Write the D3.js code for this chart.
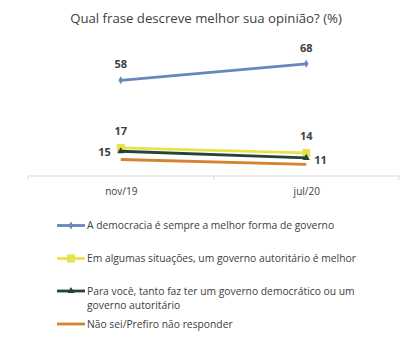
<!DOCTYPE html>
<html><head><meta charset="utf-8">
<script src="https://cdn.jsdelivr.net/npm/d3@7/dist/d3.min.js"></script>
<style>body{margin:0;background:#fff}svg{display:block}</style>
</head><body>
<script>
const periods = ["nov/19", "jul/20"];
const seriesNames = [
  "A democracia é sempre a melhor forma de governo",
  "Em algumas situações, um governo autoritário é melhor",
  "Para você, tanto faz ter um governo democrático ou um governo autoritário",
  "Não sei/Prefiro não responder"
];
const democracia = [58, 68];
const autoritario = [17, 14];
const tantoFaz = [15, 11];
const naoSei = [10, 7];
const yTicks = [0, 80];

const series = [
  {name: seriesNames[0], values: democracia, color: "#6587BA", marker: "diamond", labelPos: "above"},
  {name: seriesNames[1], values: autoritario, color: "#E9E24C", marker: "square", labelPos: "above"},
  {name: seriesNames[2], values: tantoFaz, color: "#244536", marker: "triangle", labelPos: "side"},
  {name: seriesNames[3], values: naoSei, color: "#D4832F", marker: "none", labelPos: "none"}
];

const W = 414, H = 356;
const svg = d3.select("body").append("svg").attr("width", W).attr("height", H);
const font = "'Open Sans', sans-serif";

svg.append("text").attr("x", 206).attr("y", 23).attr("text-anchor", "middle")
  .attr("font-family", font).attr("font-size", 13.2).attr("fill", "#404040")
  .text("Qual frase descreve melhor sua opinião? (%)");

const x = d3.scalePoint().domain(periods).range([28, 399]).padding(0.5);
const y = d3.scaleLinear().domain(yTicks).range([176, 44]);

const xAxis = d3.axisBottom(x).tickSize(0).tickPadding(12);
const ag = svg.append("g").attr("transform", "translate(0,176)").call(xAxis);
ag.select(".domain").attr("stroke", "#D9D9D9").attr("d", "M28,4V0H399V4");
ag.selectAll("text").attr("font-family", font).attr("font-size", 10).attr("fill", "#404040");
svg.append("line").attr("x1", 214).attr("x2", 214).attr("y1", 176).attr("y2", 180).attr("stroke", "#D9D9D9");

const line = d3.line().x((d, i) => x(periods[i])).y(d => y(d));

function drawMarker(g, type, cx, cy, color) {
  if (type === "diamond") {
    g.append("path").attr("d", d3.symbol(d3.symbolDiamond, 18)()).attr("transform", `translate(${cx},${cy})`).attr("fill", color);
  } else if (type === "square") {
    g.append("rect").attr("x", cx - 4).attr("y", cy - 4).attr("width", 8).attr("height", 8).attr("fill", color);
  } else if (type === "triangle") {
    g.append("path").attr("d", d3.symbol(d3.symbolTriangle, 22)()).attr("transform", `translate(${cx},${cy})`).attr("fill", color);
  }
}

const draw = [series[3], series[0], series[1], series[2]];
draw.forEach(s => {
  const g = svg.append("g");
  g.append("path").datum(s.values).attr("d", line).attr("fill", "none")
    .attr("stroke", s.color).attr("stroke-width", 2.8);
  s.values.forEach((v, i) => drawMarker(g, s.marker, x(periods[i]), y(v), s.color));
});

series.forEach(s => {
  s.values.forEach((v, i) => {
    let lx = x(periods[i]), ly = y(v) - 12, anchor = "middle";
    if (s.labelPos === "none") return;
    if (s.labelPos === "side") {
      if (i === 0) { lx = x(periods[i]) - 10; anchor = "end"; ly = y(v) + 5; }
      else { lx = x(periods[i]) + 8; anchor = "start"; ly = y(v) + 6; }
    } else if (s === series[1]) {
      ly = y(v) - 13;
    }
    svg.append("text").attr("x", lx).attr("y", ly).attr("text-anchor", anchor)
      .attr("font-family", font).attr("font-weight", "bold").attr("font-size", 11)
      .attr("fill", "#404040").text(v);
  });
});

const legendY = [225.5, 258.5, 291, 324];
series.forEach((s, i) => {
  const g = svg.append("g");
  const ly = legendY[i];
  g.append("line").attr("x1", 57).attr("x2", 85).attr("y1", ly).attr("y2", ly)
    .attr("stroke", s.color).attr("stroke-width", 2.8);
  drawMarker(g, s.marker, 71, ly, s.color);
  const t = g.append("text").attr("x", 87).attr("y", ly + 3.5)
    .attr("font-family", font).attr("font-size", 10.3).attr("fill", "#404040");
  if (i === 2) {
    t.append("tspan").attr("x", 87).text("Para você, tanto faz ter um governo democrático ou um");
    t.append("tspan").attr("x", 87).attr("dy", 14.5).text("governo autoritário");
  } else {
    t.text(s.name);
  }
});
</script>
</body></html>
